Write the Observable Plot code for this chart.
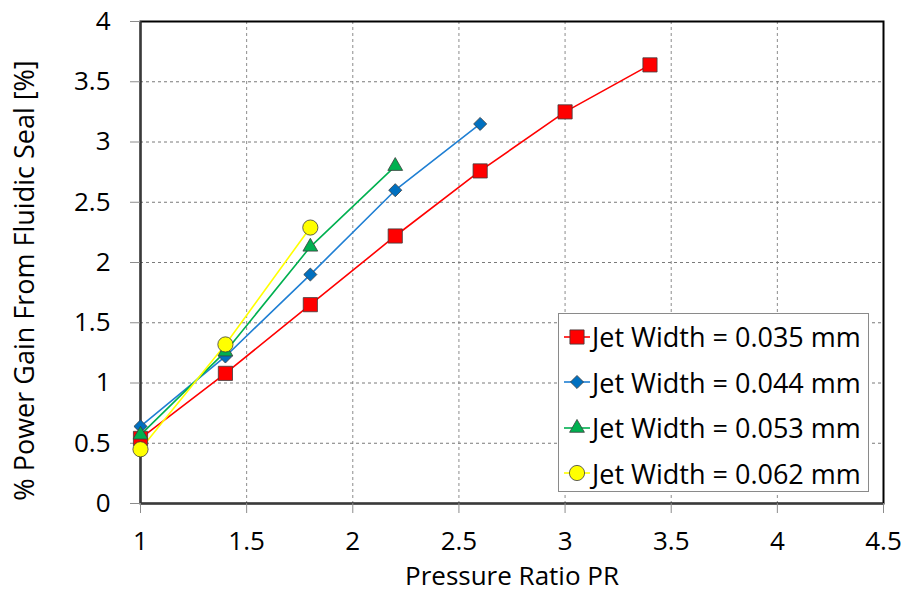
<!DOCTYPE html>
<html><head><meta charset="utf-8">
<script src="https://cdn.jsdelivr.net/npm/d3@7"></script>
<script src="https://cdn.jsdelivr.net/npm/@observablehq/plot@0.6"></script>
<style>
body{margin:0;background:#fff;font-family:"Open Sans",sans-serif}
#wrap{position:relative;width:905px;height:594px}
#legend{position:absolute;left:558px;top:313px;width:309px;height:177px;border:1px solid #8a8a8a;background:#fff;box-sizing:content-box}
.row{display:flex;align-items:center;height:45.5px;padding-left:4px;font-size:27px;color:#000;white-space:nowrap}
.row svg{margin-right:1px;flex:none}
</style>
</head><body>
<div id="wrap"><div id="legend"></div></div>
<script>
// ---- data ----
const seriesNames = ["Jet Width = 0.035 mm","Jet Width = 0.044 mm","Jet Width = 0.053 mm","Jet Width = 0.062 mm"];
const pr035 = [1.0, 1.4, 1.8, 2.2, 2.6, 3.0, 3.4];
const gain035 = [0.54, 1.08, 1.65, 2.22, 2.76, 3.25, 3.64];
const pr044 = [1.0, 1.4, 1.8, 2.2, 2.6];
const gain044 = [0.64, 1.22, 1.90, 2.60, 3.15];
const pr053 = [1.0, 1.4, 1.8, 2.2];
const gain053 = [0.57, 1.26, 2.13, 2.80];
const pr062 = [1.0, 1.4, 1.8];
const gain062 = [0.45, 1.32, 2.29];
const xTicks = [1, 1.5, 2, 2.5, 3, 3.5, 4, 4.5];
const yTicks = [0, 0.5, 1, 1.5, 2, 2.5, 3, 3.5, 4];
const xLabel = "Pressure Ratio PR";
const yLabel = "% Power Gain From Fluidic Seal [%]";

// ---- styles ----
const lineColors = ["#ff0000", "#1f7fd3", "#00b050", "#ffff00"];
const fillColors = ["#ff0000", "#0070c0", "#00b050", "#ffff00"];
const symbols = ["square", "diamond2", "triangle", "circle"];
const radii = [8.0, 5.9, 5.5, 7.6];

const xs = [pr035, pr044, pr053, pr062];
const ys = [gain035, gain044, gain053, gain062];
const rows = [];
seriesNames.forEach((s, i) => xs[i].forEach((x, j) => rows.push({series: s, idx: i, pr: x, gain: ys[i][j]})));

const font = "'Open Sans', sans-serif";
const fmt = d => String(d);
const marks = [
  Plot.gridX(xTicks.slice(1, -1), {stroke: "#8c8c8c", strokeOpacity: 1, strokeDasharray: "3,3", strokeWidth: 1}),
  Plot.gridY(yTicks.slice(1, -1), {stroke: "#7a7a7a", strokeOpacity: 1, strokeDasharray: "3,3", strokeWidth: 1}),
  Plot.frame({stroke: "#000", strokeWidth: 2}),
  Plot.ruleX([xTicks[0]], {stroke: "#3a3a3a", strokeWidth: 2}),
  Plot.ruleY([yTicks[0]], {stroke: "#3a3a3a", strokeWidth: 2}),
  Plot.axisX(xTicks, {tickSize: 10, tickPadding: 18, stroke: "#8c8c8c", fontSize: 26, label: null, fill: "#000", tickFormat: fmt}),
  Plot.axisY(yTicks, {tickSize: 10, tickPadding: 20, stroke: "#8c8c8c", fontSize: 26, label: null, fill: "#000", tickFormat: fmt}),
];
seriesNames.forEach((s, i) => {
  const d = rows.filter(r => r.idx === i);
  marks.push(Plot.line(d, {x: "pr", y: "gain", stroke: lineColors[i], strokeWidth: 1.6}));
});
seriesNames.forEach((s, i) => {
  const d = rows.filter(r => r.idx === i);
  marks.push(Plot.dot(d, {x: "pr", y: "gain", symbol: symbols[i], r: radii[i], fill: fillColors[i], stroke: "#3c3c3c", strokeWidth: 0.8}));
});
marks.push(Plot.text([xLabel], {frameAnchor: "bottom", dy: 81, text: d => d, fontSize: 26, fill: "#000", textAnchor: "middle"}));
marks.push(Plot.text([yLabel], {frameAnchor: "left", dx: -115, dy: 18, rotate: -90, text: d => d, fontSize: 27, fill: "#000", textAnchor: "middle"}));

const chart = Plot.plot({
  width: 905, height: 594,
  marginLeft: 140, marginRight: 22, marginTop: 21, marginBottom: 91,
  x: {domain: [1, 4.5]},
  y: {domain: [0, 4]},
  style: {fontFamily: font, background: "#fff", overflow: "visible", fontSize: "26px"},
  marks
});
document.getElementById("wrap").prepend(chart);

// ---- legend ----
const legend = d3.select("#legend");
const symMap = {square: d3.symbolSquare, diamond2: d3.symbolDiamond2, triangle: d3.symbolTriangle, circle: d3.symbolCircle};
seriesNames.forEach((s, i) => {
  const row = legend.append("div").attr("class", "row");
  const svg = row.append("svg").attr("width", 28).attr("height", 24);
  svg.append("line").attr("x1", 1).attr("x2", 27).attr("y1", 12).attr("y2", 12).attr("stroke", lineColors[i]).attr("stroke-width", 1.6);
  svg.append("path").attr("transform", "translate(14,12)")
    .attr("d", d3.symbol(symMap[symbols[i]], Math.PI * radii[i] * radii[i])())
    .attr("fill", fillColors[i]).attr("stroke", "#3c3c3c").attr("stroke-width", 0.8);
  row.append("span").text(s);
});
</script>
</body></html>
